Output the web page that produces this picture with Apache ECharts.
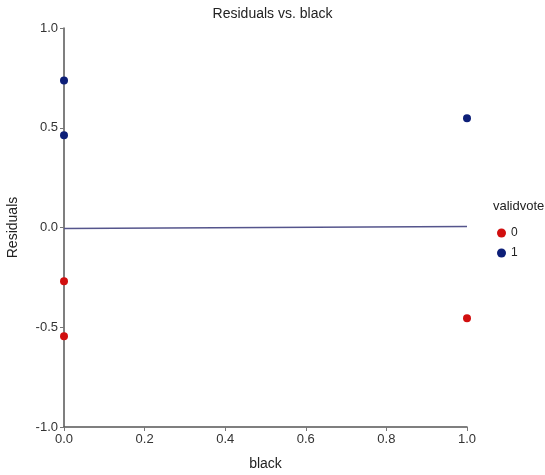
<!DOCTYPE html>
<html><head><meta charset="utf-8">
<script src="https://cdn.jsdelivr.net/npm/echarts@6/dist/echarts.min.js"></script>
<style>html,body{margin:0;padding:0;background:#fff}#c{width:545px;height:475px}</style>
</head><body><div id="c"></div>
<script>
var titleText = "Residuals vs. black";
var xName = "black";
var yName = "Residuals";
var legendTitle = "validvote";
var groups = ["0", "1"];
var groupColors = ["#d10f0f", "#0d1f78"];
var black0 = [0, 0, 1];
var resid0 = [-0.27, -0.545, -0.455];
var black1 = [0, 0, 1];
var resid1 = [0.737, 0.462, 0.547];
var fitX = [0, 1];
var fitY = [-0.005, 0.005];

function pts(xs, ys){ return xs.map(function(x,i){ return [x, ys[i]]; }); }

var chart = echarts.init(document.getElementById('c'), null, {renderer:'canvas'});
var font = 'Arial, "Liberation Sans", sans-serif';
chart.setOption({
  animation:false,
  title:{text:titleText, left:'center', top:2, textStyle:{fontFamily:font, fontSize:14, fontWeight:'normal', color:'#222'}},
  grid:{left:64, right:78, top:28, bottom:48, containLabel:false, outerBoundsMode:'none'},
  legend:{
    data:groups, orient:'vertical', left:492, top:222, itemWidth:9, itemHeight:9, itemGap:8,
    icon:'circle', textStyle:{fontFamily:font, fontSize:12, color:'#222'}
  },
  graphic:[{type:'text', left:493, top:200, style:{text:legendTitle, fontFamily:font, fontSize:13, fill:'#222'}}],
  xAxis:{
    type:'value', min:0, max:1, interval:0.2, name:xName, nameLocation:'middle', nameGap:30,
    nameTextStyle:{fontFamily:font, fontSize:14, color:'#222'},
    axisLine:{show:true, onZero:false, lineStyle:{color:'#555', width:1.5}},
    axisTick:{show:true, length:4, lineStyle:{color:'#777'}},
    axisLabel:{fontFamily:font, fontSize:13, color:'#333', margin:6, formatter:function(v){return v.toFixed(1);}},
    splitLine:{show:false}
  },
  yAxis:{
    type:'value', min:-1, max:1, interval:0.5, name:yName, nameLocation:'middle', nameGap:44,
    nameTextStyle:{fontFamily:font, fontSize:14, color:'#222'},
    axisLine:{show:true, onZero:false, lineStyle:{color:'#555', width:1.5}},
    axisTick:{show:true, length:4, lineStyle:{color:'#777'}},
    axisLabel:{fontFamily:font, fontSize:13, color:'#333', margin:6, formatter:function(v){return v.toFixed(1);}},
    splitLine:{show:false}
  },
  series:[
    {type:'line', data:pts(fitX, fitY), symbol:'none', silent:true, lineStyle:{color:'#55558c', width:1.5}, z:1},
    {name:groups[0], type:'scatter', data:pts(black0, resid0), symbolSize:8, itemStyle:{color:groupColors[0], opacity:1}, z:3},
    {name:groups[1], type:'scatter', data:pts(black1, resid1), symbolSize:8, itemStyle:{color:groupColors[1], opacity:1}, z:3}
  ]
});
</script></body></html>
